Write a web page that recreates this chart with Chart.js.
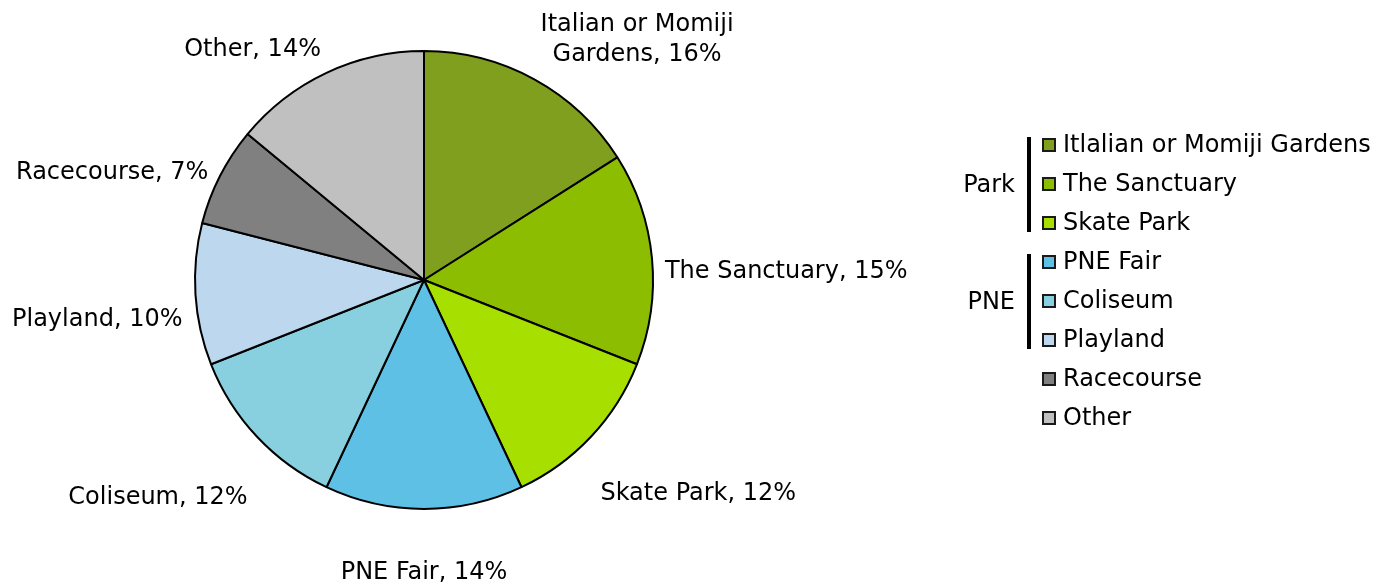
<!DOCTYPE html>
<html><head><meta charset="utf-8">
<script src="https://cdn.jsdelivr.net/npm/chart.js@4"></script>
<style>html,body{margin:0;padding:0;background:#fff;} canvas{display:block;}</style>
</head><body>
<canvas id="c" width="1374" height="583"></canvas>
<script>
const categories = ['Italian or Momiji Gardens','The Sanctuary','Skate Park','PNE Fair','Coliseum','Playland','Racecourse','Other'];
const shares = [16,15,12,14,12,10,7,14];
const legendLabels = ['Itlalian or Momiji Gardens','The Sanctuary','Skate Park','PNE Fair','Coliseum','Playland','Racecourse','Other'];
const groupNames = ['Park','PNE'];
const groupFirst = [0,3];
const groupLast = [2,5];
const sliceColors = ['#809F1E','#8CBD00','#A6DF00','#5EC0E4','#88D0DF','#BDD7EE','#808080','#C0C0C0'];

const FONT_FAMILY = '"DejaVu Sans", Verdana, sans-serif';
const FONT_SIZE = 24;
const LINE_H = 30;

function wrapText(ctx, text, maxW){
  const words = text.split(' ');
  const lines = [];
  let cur = '';
  for (const w of words){
    const t = cur ? cur + ' ' + w : w;
    if (cur && ctx.measureText(t).width > maxW){ lines.push(cur); cur = w; }
    else cur = t;
  }
  if (cur) lines.push(cur);
  return lines;
}

const sliceLabels = {
  id: 'sliceLabels',
  afterDatasetsDraw(chart, args, opts){
    const ctx = chart.ctx;
    const meta = chart.getDatasetMeta(0);
    ctx.save();
    ctx.font = FONT_SIZE + 'px ' + FONT_FAMILY;
    ctx.fillStyle = '#000';
    ctx.textBaseline = 'middle';
    ctx.textAlign = 'left';
    meta.data.forEach((arc, i) => {
      const p = arc.getProps(['x','y','startAngle','endAngle','outerRadius'], true);
      const mid = (p.startAngle + p.endAngle) / 2;
      const R = p.outerRadius + opts.gap;
      const c = Math.cos(mid), s = Math.sin(mid);
      const px = p.x + c * R, py = p.y + s * R;
      const text = chart.data.labels[i] + ', ' + chart.data.datasets[0].data[i] + '%';
      const lines = wrapText(ctx, text, opts.maxWidth);
      const widths = lines.map(l => ctx.measureText(l).width);
      const w = Math.max(...widths);
      const h = lines.length * LINE_H;
      let left = c > 0.3 ? px : (c < -0.3 ? px - w : px - w / 2);
      let top = s < -0.5 ? py - h : (s > 0.5 ? py : py - h / 2);
      top += (opts.nudge[i] || 0);
      lines.forEach((l, k) => {
        ctx.fillText(l, left + (w - widths[k]) / 2, top + LINE_H * k + LINE_H / 2);
      });
    });
    ctx.restore();
  }
};

const groupedLegend = {
  id: 'groupedLegend',
  afterDraw(chart, args, opts){
    const ctx = chart.ctx;
    const ds = chart.data.datasets[0];
    ctx.save();
    ctx.font = FONT_SIZE + 'px ' + FONT_FAMILY;
    ctx.textBaseline = 'middle';
    legendLabels.forEach((lab, i) => {
      const cy = opts.top + i * opts.rowH;
      ctx.fillStyle = ds.backgroundColor[i];
      ctx.fillRect(opts.boxX, cy - 7, 14, 14);
      ctx.strokeStyle = '#1a1a1a';
      ctx.lineWidth = 2;
      ctx.strokeRect(opts.boxX + 1, cy - 6, 12, 12);
      ctx.fillStyle = '#000';
      ctx.textAlign = 'left';
      ctx.fillText(lab, opts.textX, cy + 1);
    });
    groupNames.forEach((g, j) => {
      const y0 = opts.top + groupFirst[j] * opts.rowH - 8;
      const y1 = opts.top + groupLast[j] * opts.rowH + 9;
      ctx.fillStyle = '#000';
      ctx.fillRect(opts.barX, y0, 4, y1 - y0);
      ctx.textAlign = 'right';
      ctx.fillText(g, opts.barX - 12, (y0 + y1) / 2 + 1);
    });
    ctx.restore();
  }
};

new Chart(document.getElementById('c'), {
  type: 'pie',
  data: {
    labels: categories,
    datasets: [{
      data: shares,
      backgroundColor: sliceColors,
      borderColor: '#000',
      borderWidth: 2
    }]
  },
  options: {
    responsive: false,
    animation: false,
    events: [],
    layout: { padding: { left: 194, right: 720, top: 50, bottom: 73 } },
    plugins: {
      legend: { display: false },
      tooltip: { enabled: false },
      sliceLabels: { gap: 13, maxWidth: 260, nudge: [2, 15, 33, 36, 37, 25, 3, 4] },
      groupedLegend: { top: 145, rowH: 39, boxX: 1042, textX: 1063, barX: 1027 }
    }
  },
  plugins: [sliceLabels, groupedLegend]
});
</script>
</body></html>
